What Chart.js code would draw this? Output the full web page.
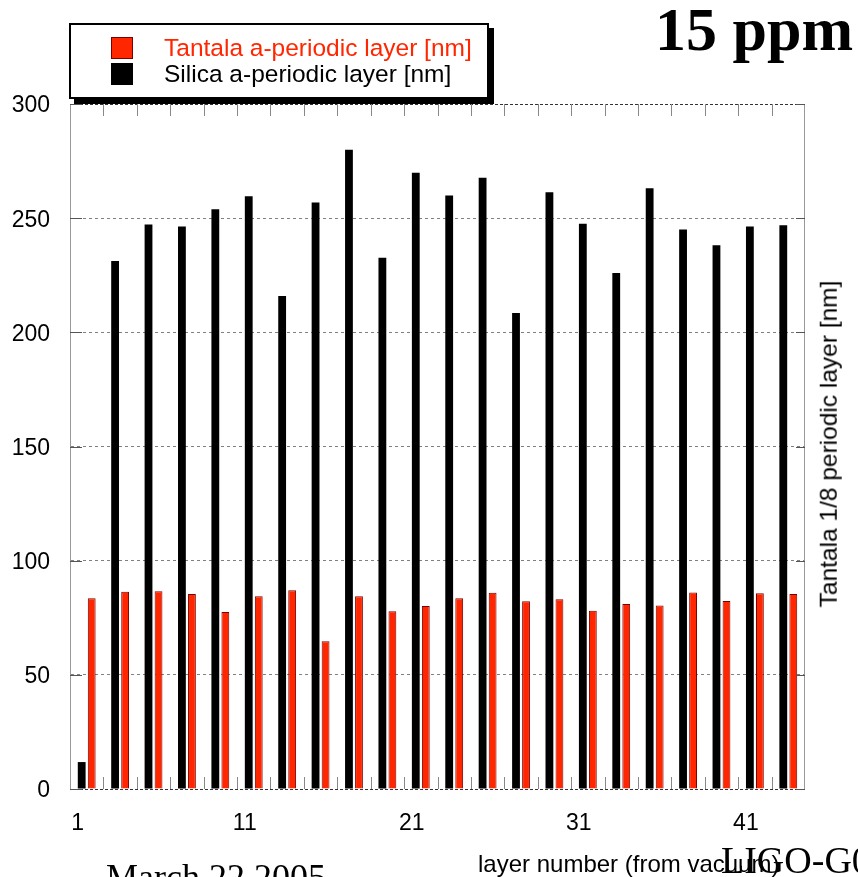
<!DOCTYPE html>
<html>
<head>
<meta charset="utf-8">
<title>15 ppm - a-periodic layers</title>
<script src="https://cdn.jsdelivr.net/npm/chart.js@4/dist/chart.umd.min.js"></script>
<style>
    body { margin: 0; background: #fff; }
    #wrap { position: relative; width: 858px; height: 877px; overflow: hidden; background: #fff; }
    #chart { position: absolute; left: 0; top: 0; }
    .txt { position: absolute; white-space: nowrap; line-height: 1; }
    .sans { font-family: "Liberation Sans", Arial, sans-serif; }
    .serif { font-family: "Liberation Serif", "Times New Roman", serif; }
    #legend-box { position: absolute; left: 69px; top: 23px; width: 416px; height: 72px;
        border: 2px solid #000; background: #fff; box-shadow: 5px 5px 0 #000; }
    .swatch { position: absolute; width: 22px; height: 22px; box-sizing: border-box; }
</style>
</head>
<body>
<div id="wrap">
    <canvas id="chart" width="858" height="877"></canvas>
    <div id="legend-box"></div>
    <div class="txt serif" style="left:655px; top:-2px; font-size:62px; font-weight:bold;">15 ppm</div>
    <div class="txt sans" style="left:478px; top:852px; font-size:24px;">layer number (from vacuum)</div>
    <div class="txt serif" style="left:106px; top:859px; font-size:36px;">March 22 2005</div>
    <div class="txt serif" style="left:721px; top:841px; font-size:38px;">LIGO-G0</div>
    <div class="txt sans" style="left:829px; top:444px; font-size:24.5px; transform: translate(-50%, -50%) rotate(-90deg);">Tantala 1/8 periodic layer [nm]</div>
</div>
<script>
// layer numbers shown on the category axis (one group = silica + tantala pair)
const layers = [1, 3, 5, 7, 9, 11, 13, 15, 17, 19, 21, 23, 25, 27, 29, 31, 33, 35, 37, 39, 41, 43];

// thickness in nm
const silica = [11.8, 231.2, 247.2, 246.3, 253.9, 259.6, 215.9, 256.9, 280.0, 232.7, 269.9,
                259.9, 267.7, 208.5, 261.3, 247.6, 226.0, 263.1, 245.0, 238.1, 246.3, 246.9];
const tantala = [83.5, 86.4, 86.6, 85.4, 77.5, 84.4, 87.0, 64.7, 84.4, 77.8, 80.1,
                 83.5, 86.0, 82.2, 83.1, 78.1, 81.0, 80.4, 86.1, 82.3, 85.7, 85.4];

const yTicks = [0, 50, 100, 150, 200, 250, 300];

const RED = "#ff2600";
const FONT = "'Liberation Sans', Arial, sans-serif";

// inward tick marks + dashed top/bottom and solid right frame
const framePlugin = {
    id: "frame",
    afterDraw(chart) {
        const ctx = chart.ctx;
        const a = chart.chartArea;
        const xs = chart.scales.x;
        const ys = chart.scales.y;
        ctx.save();
        ctx.lineWidth = 1;

        ctx.strokeStyle = "#333";
        ctx.setLineDash([3, 2]);
        ctx.beginPath();
        ctx.moveTo(a.left, a.top + 0.5);
        ctx.lineTo(a.right, a.top + 0.5);
        ctx.moveTo(a.left, a.bottom + 0.5);
        ctx.lineTo(a.right, a.bottom + 0.5);
        ctx.stroke();
        ctx.setLineDash([]);
        ctx.strokeStyle = "#999";
        ctx.beginPath();
        ctx.moveTo(a.right - 0.5, a.top);
        ctx.lineTo(a.right - 0.5, a.bottom);
        ctx.stroke();

        // category boundary ticks, bottom and top
        ctx.strokeStyle = "#888";
        for (let i = 1; i < layers.length; i++) {
            const x = Math.round((xs.getPixelForValue(i - 1) + xs.getPixelForValue(i)) / 2) + 0.5;
            ctx.beginPath();
            ctx.moveTo(x, a.bottom);
            ctx.lineTo(x, a.bottom - 12);
            ctx.moveTo(x, a.top);
            ctx.lineTo(x, a.top + 12);
            ctx.stroke();
        }

        // value ticks, left and right
        ctx.strokeStyle = "#555";
        yTicks.forEach(v => {
            const y = Math.round(ys.getPixelForValue(v)) + 0.5;
            ctx.beginPath();
            ctx.moveTo(a.left, y);
            ctx.lineTo(a.left + 12, y);
            ctx.moveTo(a.right, y);
            ctx.lineTo(a.right - 9, y);
            ctx.stroke();
        });
        ctx.restore();
    }
};

const chart = new Chart(document.getElementById("chart"), {
    type: "bar",
    data: {
        labels: layers,
        datasets: [
            {
                label: "Silica a-periodic layer [nm]",
                data: silica,
                backgroundColor: "#000",
                borderWidth: 0
            },
            {
                label: "Tantala a-periodic layer [nm]",
                data: tantala,
                backgroundColor: RED,
                borderColor: "#7a0000",
                borderWidth: 1
            }
        ]
    },
    options: {
        responsive: false,
        animation: false,
        events: [],
        layout: { padding: { left: 0, top: 104, right: 53, bottom: 0 } },
        datasets: { bar: { categoryPercentage: 0.6, barPercentage: 0.78 } },
        plugins: {
            legend: { display: false },
            tooltip: { enabled: false }
        },
        scales: {
            x: {
                grid: { display: false, drawTicks: false },
                border: { display: false },
                ticks: {
                    autoSkip: false,
                    maxRotation: 0,
                    padding: 21,
                    labelOffset: -9,
                    color: "#000",
                    font: { family: FONT, size: 23 },
                    callback: (v, i) => (i % 5 === 0 ? layers[i] : "")
                },
                afterFit: s => { s.height = 88; }
            },
            y: {
                min: 0,
                max: 300,
                grid: {
                    drawTicks: false,
                    color: c => (c.tick.value === 0 || c.tick.value === 300 ? "rgba(0,0,0,0)" : "#808080")
                },
                // in v4 border.dash sets the dash of the gridlines
                border: { color: "#999", dash: [3, 3] },
                ticks: {
                    stepSize: 50,
                    padding: 20,
                    labelOffset: 2,
                    color: "#000",
                    font: { family: FONT, size: 23 }
                },
                afterFit: s => { s.width = 70; }
            }
        }
    },
    plugins: [framePlugin]
});

// legend box drawn from the datasets (tantala listed first)
const wrap = document.getElementById("wrap");
const items = chart.data.datasets.slice().reverse();
items.forEach((ds, i) => {
    const sw = document.createElement("div");
    sw.className = "swatch";
    sw.style.left = "111px";
    sw.style.top = (37 + i * 26) + "px";
    sw.style.background = ds.backgroundColor;
    if (ds.borderWidth) sw.style.border = "1px solid " + ds.borderColor;
    wrap.appendChild(sw);

    const t = document.createElement("div");
    t.className = "txt sans";
    t.style.left = "164px";
    t.style.top = (36 + i * 26) + "px";
    t.style.fontSize = "24.5px";
    t.style.color = ds.borderWidth ? RED : "#000";
    t.textContent = ds.label;
    wrap.appendChild(t);
});
</script>
</body>
</html>
